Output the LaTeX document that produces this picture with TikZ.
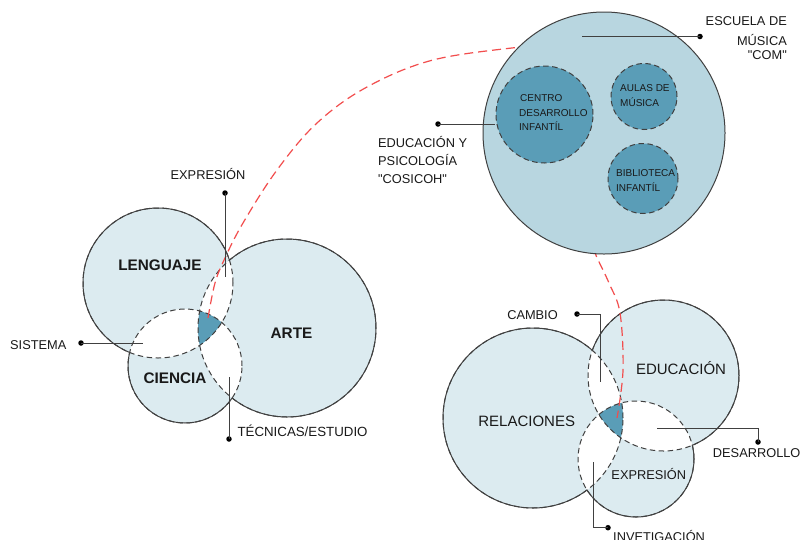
\documentclass[tikz,border=0pt]{standalone}
\usepackage{fontspec}
\setmainfont{Liberation Sans}
\newfontfamily\qfont{Liberation Sans}
\definecolor{lightb}{HTML}{DCEBF0}
\definecolor{bigb}{HTML}{B8D6E0}
\definecolor{darkb}{HTML}{5A9DB7}
\definecolor{vgray}{HTML}{404040}
\definecolor{vred}{HTML}{F24D4D}
\newcommand{\dq}{{\qfont"}}
\tikzset{
  vline/.style={draw=vgray, line width=1pt},
  vdashed/.style={draw=vgray, line width=1pt, dash pattern=on 5.5pt off 3.5pt},
  redpath/.style={draw=vred, line width=1.2pt, dash pattern=on 9pt off 5pt},
  leader/.style={draw=vgray, line width=0.9pt},
  dotnode/.style={circle, fill=black, inner sep=0pt, minimum size=5.5pt},
  lab/.style={inner sep=0pt, font=\fontsize{12.8}{15}\selectfont, text=black!90},
  small/.style={inner sep=0pt, font=\fontsize{10}{12}\selectfont, text=black!90},
  bigbold/.style={inner sep=0pt, font=\fontsize{15.3}{18}\bfseries\selectfont, text=black!90},
  bigreg/.style={inner sep=0pt, font=\fontsize{15}{18}\selectfont, text=black!90},
}
\newcommand{\tripvenn}[6]{%
  \fill[lightb] #1 circle (#2) #3 circle (#4) #5 circle (#6);
  \begin{scope}\clip #1 circle (#2); \fill[white] #3 circle (#4) #5 circle (#6); \end{scope}
  \begin{scope}\clip #3 circle (#4); \fill[white] #5 circle (#6); \end{scope}
  \begin{scope}\clip #1 circle (#2); \clip #3 circle (#4); \fill[darkb] #5 circle (#6); \end{scope}
  \path[vdashed] #1 circle (#2) #3 circle (#4) #5 circle (#6);
  \begin{scope}[even odd rule]
    \clip (-50,-50) rectangle (850,600) #3 circle (#4);
    \clip (-50,-50) rectangle (850,600) #5 circle (#6);
    \path[vline] #1 circle (#2);
  \end{scope}
  \begin{scope}[even odd rule]
    \clip (-50,-50) rectangle (850,600) #1 circle (#2);
    \clip (-50,-50) rectangle (850,600) #5 circle (#6);
    \path[vline] #3 circle (#4);
  \end{scope}
  \begin{scope}[even odd rule]
    \clip (-50,-50) rectangle (850,600) #1 circle (#2);
    \clip (-50,-50) rectangle (850,600) #3 circle (#4);
    \path[vline] #5 circle (#6);
  \end{scope}
}
\begin{document}
\begin{tikzpicture}[x=1pt,y=-1pt]
\useasboundingbox (0,0) rectangle (800,539);
\fill[white] (0,0) rectangle (800,539);

% left Venn: lenguaje, arte, ciencia
\tripvenn{(158,283)}{75pt}{(287,328)}{89pt}{(185,366)}{57pt}
% right Venn: relaciones, educacion, expresion
\tripvenn{(533,418)}{90pt}{(663.5,375.5)}{75.5pt}{(636,459)}{58pt}

% red dashed connections
\draw[redpath] plot[smooth, tension=0.6] coordinates {(208,318) (215,283) (225,258) (243,223) (277,170) (317,123) (367,87) (433,60) (520,47) (550,45)};
\draw[redpath] plot[smooth, tension=0.6] coordinates {(590,235) (595,253) (609,283) (620,313) (623,370) (617,418)};

% big circle
\path[vline, fill=bigb] (604,133) circle (121pt);
\path[vdashed, fill=darkb] (544.5,114.5) circle (48.5pt);
\path[vdashed, fill=darkb] (644,96.5) circle (33pt);
\path[vdashed, fill=darkb] (643,178.5) circle (35pt);

% inner texts
\node[small, anchor=base west] (t1) at (520,101.8) {CENTRO};
\node[small, anchor=base west] (t2) at (519,116) {DESARROLLO};
\node[small, anchor=base west] (t3) at (519,130.5) {INFANTÍL};
\node[small, anchor=base west] (t4) at (620,91.6) {AULAS DE};
\node[small, anchor=base west] (t5) at (620,106.4) {MÚSICA};
\node[small, anchor=base west] (t6) at (616,176.6) {BIBLIOTECA};
\node[small, anchor=base west] (t7) at (616,191.4) {INFANTÍL};

% circle names
\node[bigbold, anchor=base] (lenguaje) at (160,270.5) {LENGUAJE};
\node[bigbold, anchor=base] (arte) at (291.5,338) {ARTE};
\node[bigbold, anchor=base] (ciencia) at (175,383.8) {CIENCIA};
\node[bigreg, anchor=base] (educacion) at (681,374.4) {EDUCACIÓN};
\node[bigreg, anchor=base] (relaciones) at (526.7,426.1) {RELACIONES};
\node[lab, anchor=base] (expresion2) at (648.8,479.4) {EXPRESIÓN};

% labels with leaders
\node[lab, anchor=base] (expresion) at (208,179.6) {EXPRESIÓN};
\node[dotnode] (dexp) at (225,193) {};
\coordinate (eexp) at (225,277);
\draw[leader] (dexp.center) -- (eexp);

\node[lab, anchor=base west] (sistema) at (10,349) {SISTEMA};
\node[dotnode] (dsis) at (81,343) {};
\coordinate (esis) at (143,343);
\draw[leader] (dsis.center) -- (esis);

\node[lab, anchor=base west, font=\fontsize{13.3}{15}\selectfont] (tecnicas) at (237.3,436.5) {TÉCNICAS/ESTUDIO};
\node[dotnode] (dtec) at (229,439) {};
\coordinate (etec) at (229,377);
\draw[leader] (etec) -- (dtec.center);

\node[lab, anchor=base east] (esc1) at (787,25) {ESCUELA DE};
\node[lab, anchor=base east] (esc2) at (787,45) {MÚSICA};
\node[lab, anchor=base east] (esc3) at (787,59) {\dq COM\dq};
\node[dotnode] (desc) at (700,36.5) {};
\coordinate (eesc) at (582,36.5);
\draw[leader] (desc.center) -- (eesc);

\node[lab, anchor=base west] (edu1) at (378,147.5) {EDUCACIÓN Y};
\node[lab, anchor=base west] (edu2) at (378,165.5) {PSICOLOGÍA};
\node[lab, anchor=base west] (edu3) at (378,183.5) {\dq COSICOH\dq};
\node[dotnode] (dedu) at (438,124) {};
\coordinate (eedu) at (495,124);
\draw[leader] (dedu.center) -- (eedu);

\node[lab, anchor=base] (cambio) at (532.5,319.4) {CAMBIO};
\node[dotnode] (dcam) at (577,314) {};
\coordinate (ecam) at (600,382);
\draw[leader] (dcam.center) -| (ecam);

\node[lab, anchor=base] (desarrollo) at (756.7,457.8) {DESARROLLO};
\node[dotnode] (ddes) at (758,442) {};
\coordinate (edes) at (657,428);
\draw[leader] (edes) -| (ddes.center);

\node[lab, anchor=base west] (invet) at (613,541) {INVETIGACIÓN};
\node[dotnode] (dinv) at (608,527.7) {};
\coordinate (einv) at (593,462);
\draw[leader] (einv) |- (dinv.center);
\end{tikzpicture}
\end{document}
